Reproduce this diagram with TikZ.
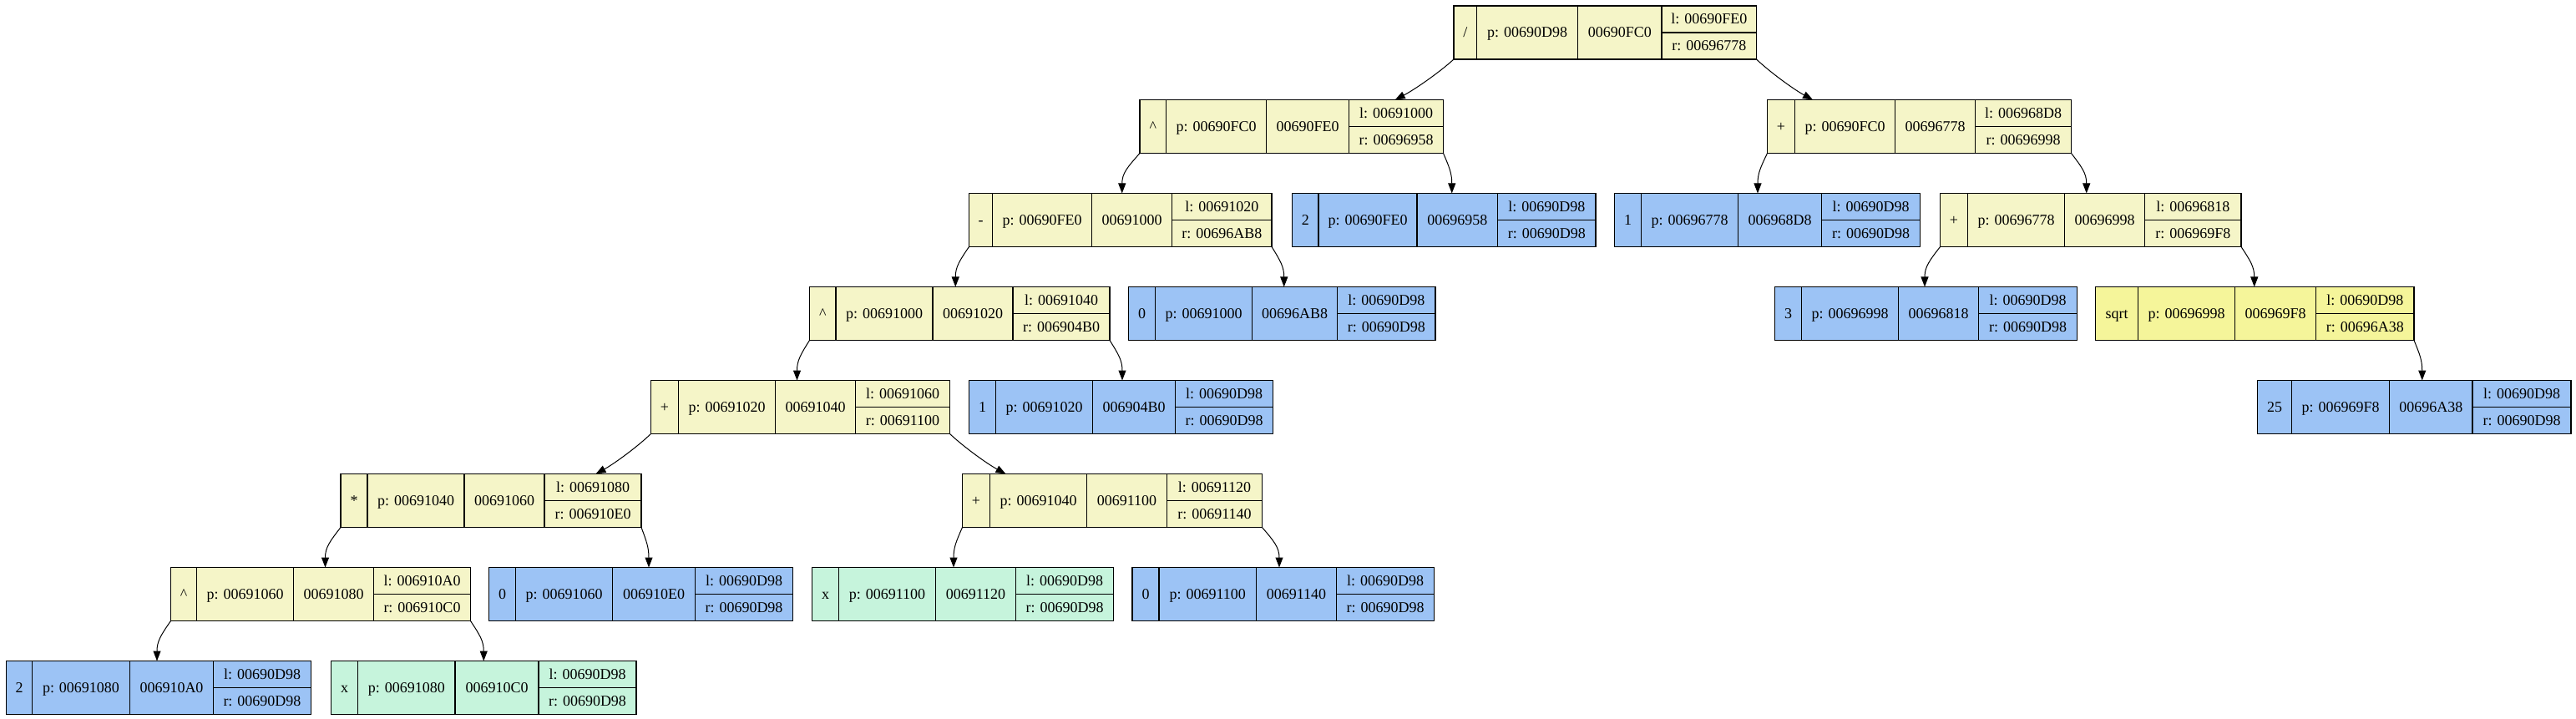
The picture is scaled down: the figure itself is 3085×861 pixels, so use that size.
\documentclass[tikz,border=0pt]{standalone}
\usepackage{fontspec}
\setmainfont{Liberation Serif}
\usetikzlibrary{arrows.meta,calc}
\definecolor{ylw}{HTML}{F5F5C8}
\definecolor{blu}{HTML}{9CC3F5}
\definecolor{grn}{HTML}{C6F4DC}
\definecolor{sqy}{HTML}{F5F59A}

\newcommand\setcw[4]{\def\cwA{#1}\def\cwB{#2}\def\cwC{#3}\def\cwD{#4}}
\newcommand\recnode[9]{%
  \pgfmathsetmacro\rtw{\cwA+\cwB+\cwC+\cwD}%
  \pgfmathsetmacro\rxa{#2+\cwA}%
  \pgfmathsetmacro\rxb{\rxa+\cwB}%
  \pgfmathsetmacro\rxc{\rxb+\cwC}%
  \pgfmathsetmacro\rxm{\rxc+\cwD}%
  \node[recbox,fill=#4,minimum width=\rtw*0.5pt,anchor=north west] (#1) at (#2,#3) {};
  \draw[divider] (\rxa,#3) -- (\rxa,#3+64) (\rxb,#3) -- (\rxb,#3+64) (\rxc,#3) -- (\rxc,#3+64) (\rxc,#3+32) -- (\rxm,#3+32);
  \node[celltext] (#1-op) at ({(#2+\rxa)/2},#3+32) {#5};
  \node[celltext] (#1-p) at ({(\rxa+\rxb)/2},#3+32) {#6};
  \node[celltext] (#1-ad) at ({(\rxb+\rxc)/2},#3+32) {#7};
  \node[celltext] (#1-l) at ({(\rxc+\rxm)/2},#3+16) {#8};
  \node[celltext] (#1-r) at ({(\rxc+\rxm)/2},#3+48) {#9};
}
\newcommand\smalledge[3]{%
  \draw[conn] let \p1=(#1), \p2=([xshift=#3*0.5pt]#2.north) in
    (\p1) .. controls ({\x1+0.7*(\x2-\x1)},{\y1+0.35*(\y2-\y1)}) and ({\x2},{0.5*(\y1+\y2)}) .. (\p2);
}
\newcommand\bigedge[3]{%
  \draw[conn] let \p1=(#1), \p2=([xshift=#3*0.5pt]#2.north) in
    (\p1) .. controls ({\x1+0.25*(\x2-\x1)},{\y1+0.33*(\y2-\y1)}) and ({\x2-0.33*(\x2-\x1)},{\y2-0.25*(\y2-\y1)}) .. (\p2);
}

\tikzset{
  recbox/.style={draw=black, line width=0.6pt, inner sep=0pt, outer sep=0pt, minimum height=32pt},
  divider/.style={line width=0.6pt},
  celltext/.style={inner sep=0pt, text height=5.6pt, text depth=0pt, font=\fontsize{9}{11}\selectfont},
  conn/.style={line width=0.5pt, -{Triangle[length=6pt,width=4.5pt]}}
}

\begin{document}
\begin{tikzpicture}[x=0.5pt,y=-0.5pt]
\fill[white] (0,0) rectangle (3085,861);
\useasboundingbox (0,0) rectangle (3085,861);

\setcw{27.5}{121}{100.5}{113.5}\recnode{root}{1741}{7}{ylw}{/}{p: 00690D98}{00690FC0}{l: 00690FE0}{r: 00696778}
\setcw{31.5}{120}{99}{113}\recnode{a1}{1365}{119.5}{ylw}{\textasciicircum}{p: 00690FC0}{00690FE0}{l: 00691000}{r: 00696958}
\setcw{33}{120}{96}{115}\recnode{b1}{2116.5}{119.5}{ylw}{+}{p: 00690FC0}{00696778}{l: 006968D8}{r: 00696998}
\setcw{28}{119}{96}{119.5}\recnode{a2}{1160.5}{231.5}{ylw}{-}{p: 00690FE0}{00691000}{l: 00691020}{r: 00696AB8}
\setcw{31.5}{118}{96.5}{117.5}\recnode{c2}{1547.5}{231.5}{blu}{2}{p: 00690FE0}{00696958}{l: 00690D98}{r: 00690D98}
\setcw{32}{116}{100}{118}\recnode{d2}{1933.5}{231.5}{blu}{1}{p: 00696778}{006968D8}{l: 00690D98}{r: 00690D98}
\setcw{33}{116}{96}{115.5}\recnode{e2}{2323.5}{231.5}{ylw}{+}{p: 00696778}{00696998}{l: 00696818}{r: 006969F8}
\setcw{31.5}{116}{96}{116}\recnode{a3}{969.5}{343.5}{ylw}{\textasciicircum}{p: 00691000}{00691020}{l: 00691040}{r: 006904B0}
\setcw{32}{116}{102}{117.5}\recnode{b3}{1351.5}{343.5}{blu}{0}{p: 00691000}{00696AB8}{l: 00690D98}{r: 00690D98}
\setcw{32}{116}{96}{118}\recnode{c3}{2125.5}{343.5}{blu}{3}{p: 00696998}{00696818}{l: 00690D98}{r: 00690D98}
\setcw{51}{116}{97}{117.5}\recnode{d3}{2509.5}{343.5}{sqy}{sqrt}{p: 00696998}{006969F8}{l: 00690D98}{r: 00696A38}
\setcw{33}{116}{96}{113}\recnode{a4}{779.5}{455.5}{ylw}{+}{p: 00691020}{00691040}{l: 00691060}{r: 00691100}
\setcw{32}{116}{99}{117}\recnode{b4}{1160.5}{455.5}{blu}{1}{p: 00691020}{006904B0}{l: 00690D98}{r: 00690D98}
\setcw{41}{117}{99.5}{118}\recnode{c4}{2703.5}{455.5}{blu}{25}{p: 006969F8}{00696A38}{l: 00690D98}{r: 00690D98}
\setcw{32}{116}{96}{116}\recnode{a5}{408}{567.5}{ylw}{*}{p: 00691040}{00691060}{l: 00691080}{r: 006910E0}
\setcw{33}{116}{96}{114}\recnode{b5}{1152.5}{567.5}{ylw}{+}{p: 00691040}{00691100}{l: 00691120}{r: 00691140}
\setcw{31}{116}{96}{116}\recnode{a6}{204.5}{679.5}{ylw}{\textasciicircum}{p: 00691060}{00691080}{l: 006910A0}{r: 006910C0}
\setcw{32}{116}{99}{117}\recnode{b6}{585.5}{679.5}{blu}{0}{p: 00691060}{006910E0}{l: 00690D98}{r: 00690D98}
\setcw{32}{116}{96}{117}\recnode{c6}{972.5}{679.5}{grn}{x}{p: 00691100}{00691120}{l: 00690D98}{r: 00690D98}
\setcw{32}{116.5}{96}{117}\recnode{d6}{1356}{679.5}{blu}{0}{p: 00691100}{00691140}{l: 00690D98}{r: 00690D98}
\setcw{31}{117}{100}{117}\recnode{a7}{7.5}{791.5}{blu}{2}{p: 00691080}{006910A0}{l: 00690D98}{r: 00690D98}
\setcw{32}{116.5}{100}{117}\recnode{b7}{396.5}{791.5}{grn}{x}{p: 00691080}{006910C0}{l: 00690D98}{r: 00690D98}

\bigedge{root.south west}{a1}{124}
\bigedge{root.south east}{b1}{-127.5}
\smalledge{a1.south west}{a2}{2}
\smalledge{a1.south east}{c2}{9.5}
\smalledge{b1.south west}{d2}{-11.5}
\smalledge{b1.south east}{e2}{-5}
\smalledge{a2.south west}{a3}{-5}
\smalledge{a2.south east}{b3}{2.5}
\smalledge{e2.south west}{c3}{-1.5}
\smalledge{e2.south east}{d3}{-0.5}
\smalledge{a3.south west}{a4}{-4}
\smalledge{a3.south east}{b4}{1.5}
\smalledge{d3.south east}{c4}{9.5}
\bigedge{a4.south west}{a5}{125.5}
\bigedge{a4.south east}{b5}{-127.5}
\smalledge{a5.south west}{a6}{5.5}
\smalledge{a5.south east}{b6}{9.5}
\smalledge{b5.south west}{c6}{-11}
\smalledge{b5.south east}{d6}{-4.75}
\smalledge{a6.south west}{a7}{-2}
\smalledge{a6.south east}{b7}{0}
\end{tikzpicture}
\end{document}
